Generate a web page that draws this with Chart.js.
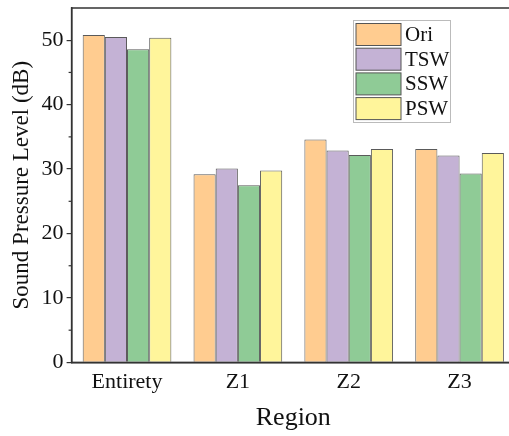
<!DOCTYPE html>
<html>
<head>
<meta charset="utf-8">
<script src="https://cdn.jsdelivr.net/npm/chart.js@4.4.0/dist/chart.umd.min.js"></script>
<style>
  html, body { margin: 0; padding: 0; background: #fff; overflow: hidden; }
  #wrap { width: 516px; height: 436px; }
</style>
</head>
<body>
<div id="wrap"><canvas id="grafico" width="516" height="436"></canvas></div>
<script>
const regioes = ['Entirety', 'Z1', 'Z2', 'Z3'];
const ori = [50.8, 29.2, 34.6, 33.1];
const tsw = [50.5, 30.1, 32.9, 32.1];
const ssw = [48.6, 27.5, 32.2, 29.3];
const psw = [50.4, 29.8, 33.1, 32.5];
const nomesSeries = ['Ori', 'TSW', 'SSW', 'PSW'];
const coresSeries = ['#FFCC90', '#C4B2D5', '#8FCB96', '#FFF59B'];
const ticksY = [0, 10, 20, 30, 40, 50];

const corEixo = '#333';
const fonte = 'Liberation Serif';

// moldura, ticks menores e legenda vertical
const extras = {
    id: 'extras',
    afterDraw(chart) {
        const ctx = chart.ctx;
        const area = chart.chartArea;
        const y = chart.scales.y;
        ctx.save();
        ctx.strokeStyle = corEixo;
        ctx.lineWidth = 1.5;
        ctx.strokeRect(area.left, area.top, area.right - area.left, area.bottom - area.top);

        ctx.lineWidth = 1.2;
        for (let v = 5; v < 55; v += 10) {
            let py = y.getPixelForValue(v);
            ctx.beginPath();
            ctx.moveTo(area.left - 3, py);
            ctx.lineTo(area.left, py);
            ctx.stroke();
        }

        // legenda
        const lx = 353, ly = 20, lw = 97, lh = 102;
        ctx.fillStyle = '#fff';
        ctx.fillRect(lx, ly, lw, lh);
        ctx.strokeStyle = '#bbb';
        ctx.lineWidth = 1;
        ctx.strokeRect(lx + 0.5, ly + 0.5, lw, lh);
        ctx.font = '21px "' + fonte + '"';
        ctx.textBaseline = 'middle';
        chart.data.datasets.forEach((ds, i) => {
            let sy = ly + 3.5 + i * 24.7;
            ctx.fillStyle = ds.backgroundColor;
            ctx.fillRect(lx + 3, sy, 45, 22);
            ctx.strokeStyle = '#555';
            ctx.strokeRect(lx + 3, sy, 45, 22);
            ctx.fillStyle = '#111';
            ctx.fillText(ds.label, lx + 52, sy + 12);
        });
        ctx.restore();
    }
};

const dadosSeries = [ori, tsw, ssw, psw];

new Chart(document.getElementById('grafico'), {
    type: 'bar',
    data: {
        labels: regioes,
        datasets: nomesSeries.map((nome, i) => ({
            label: nome,
            data: dadosSeries[i],
            backgroundColor: coresSeries[i],
            borderColor: '#5a5a5a',
            borderWidth: 1,
            categoryPercentage: 0.8,
            barPercentage: 1.0
        }))
    },
    options: {
        responsive: false,
        animation: false,
        layout: { padding: { top: 8, right: 1, bottom: 2, left: 8 } },
        plugins: {
            legend: { display: false },
            tooltip: { enabled: false }
        },
        scales: {
            x: {
                grid: { display: false, drawTicks: false },
                border: { color: corEixo, width: 1.5 },
                ticks: { color: '#111', font: { family: fonte, size: 22 }, padding: 7 },
                title: {
                    display: true, text: 'Region', color: '#111',
                    font: { family: fonte, size: 26 }, padding: { top: 0, bottom: 0 }
                }
            },
            y: {
                min: 0, max: 55,
                afterBuildTicks: (axis) => { axis.ticks = ticksY.map(v => ({ value: v })); },
                afterFit: (axis) => { axis.paddingTop = 0; },
                grid: { drawOnChartArea: false, tickLength: 5, color: corEixo, lineWidth: 1.2 },
                border: { color: corEixo, width: 1.5 },
                ticks: { color: '#111', font: { family: fonte, size: 22 }, padding: 3 },
                title: {
                    display: true, text: 'Sound Pressure Level (dB)', color: '#111',
                    font: { family: fonte, size: 23 }, padding: { top: 0, bottom: 3 }
                }
            }
        }
    },
    plugins: [extras]
});
</script>
</body>
</html>
